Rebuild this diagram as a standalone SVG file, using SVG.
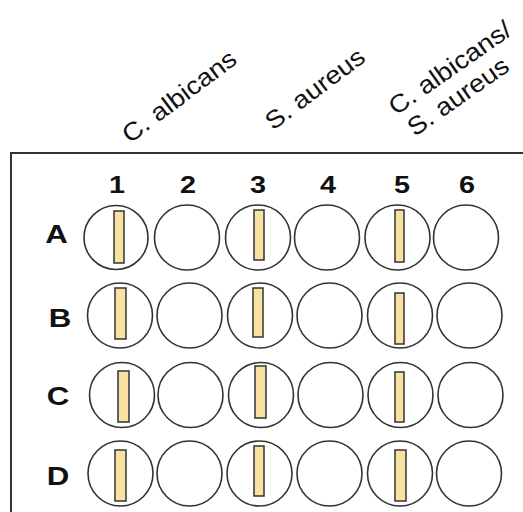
<svg xmlns="http://www.w3.org/2000/svg" width="523" height="512" viewBox="0 0 523 512">
<style>
.lbl{font-family:"Liberation Sans",Arial,sans-serif;font-size:25px;fill:#111}
.hdr{font-family:"Liberation Sans",Arial,sans-serif;font-size:24px;font-weight:bold;fill:#111;text-anchor:middle}
.well{fill:#fff;stroke:#333;stroke-width:1.6}
.strip{fill:#f8e2a2;stroke:#333;stroke-width:1.5}
.frame{fill:none;stroke:#333;stroke-width:2}
</style>
<rect width="523" height="512" fill="#fff"/>
<g id="labels">
<text class="lbl" transform="translate(130,144) rotate(-37) scale(1.1,1)">C. albicans</text>
<text class="lbl" transform="translate(273,131) rotate(-37) scale(1.1,1)">S. aureus</text>
<text class="lbl" transform="translate(396,116) rotate(-35) scale(1.1,1)">C. albicans/<tspan x="3" dy="28">S. aureus</tspan></text>
</g>
<path id="frame" class="frame" d="M11,512 V153 H523"/>
<g id="columns">
<text class="hdr" transform="translate(117,193) scale(1.2,1)">1</text>
<text class="hdr" transform="translate(188,193) scale(1.2,1)">2</text>
<text class="hdr" transform="translate(258,193) scale(1.2,1)">3</text>
<text class="hdr" transform="translate(328,193) scale(1.2,1)">4</text>
<text class="hdr" transform="translate(402,193) scale(1.2,1)">5</text>
<text class="hdr" transform="translate(467,193) scale(1.2,1)">6</text>
</g>
<g id="rows">
<text class="hdr" transform="translate(56.5,243) scale(1.25,1)" style="font-size:25px">A</text>
<text class="hdr" transform="translate(60,327) scale(1.25,1)" style="font-size:25px">B</text>
<text class="hdr" transform="translate(58,405) scale(1.25,1)" style="font-size:25px">C</text>
<text class="hdr" transform="translate(58,485) scale(1.25,1)" style="font-size:25px">D</text>
</g>
<g id="rowA">
<circle class="well" cx="116" cy="237.5" r="32"/>
<circle class="well" cx="187" cy="237.5" r="32.5"/>
<circle class="well" cx="258" cy="237.5" r="32.5"/>
<circle class="well" cx="327" cy="237.5" r="32.5"/>
<circle class="well" cx="397.5" cy="237.5" r="32.5"/>
<circle class="well" cx="466" cy="237.5" r="32.5"/>
<rect class="strip" x="114" y="211" width="10" height="52"/>
<rect class="strip" x="254" y="210" width="10" height="50"/>
<rect class="strip" x="395" y="210" width="9" height="52"/>
</g>
<g id="rowB">
<circle class="well" cx="120" cy="315.5" r="32.5"/>
<circle class="well" cx="189.5" cy="315.5" r="32.5"/>
<circle class="well" cx="260" cy="315.5" r="32.5"/>
<circle class="well" cx="329.5" cy="315.5" r="32.5"/>
<circle class="well" cx="400" cy="315.5" r="32.5"/>
<circle class="well" cx="469.5" cy="315.5" r="32.5"/>
<rect class="strip" x="115" y="288" width="11" height="51"/>
<rect class="strip" x="253" y="288" width="10" height="49"/>
<rect class="strip" x="395" y="293" width="9" height="51"/>
</g>
<g id="rowC">
<circle class="well" cx="122" cy="395" r="32.5"/>
<circle class="well" cx="190.5" cy="395" r="32.5"/>
<circle class="well" cx="261" cy="395" r="32.5"/>
<circle class="well" cx="330.5" cy="395" r="32.5"/>
<circle class="well" cx="400.5" cy="395" r="32.5"/>
<circle class="well" cx="470.5" cy="395" r="32.5"/>
<rect class="strip" x="118" y="371" width="11" height="51"/>
<rect class="strip" x="255" y="366" width="11" height="52"/>
<rect class="strip" x="395" y="372" width="9" height="50"/>
</g>
<g id="rowD">
<circle class="well" cx="120.5" cy="473.5" r="32.5"/>
<circle class="well" cx="189.5" cy="473.5" r="32.5"/>
<circle class="well" cx="259.5" cy="473.5" r="32.5"/>
<circle class="well" cx="329.5" cy="473.5" r="32.5"/>
<circle class="well" cx="400" cy="473.5" r="32.5"/>
<circle class="well" cx="469" cy="473.5" r="32.5"/>
<rect class="strip" x="115" y="450" width="11" height="51"/>
<rect class="strip" x="254" y="446" width="10" height="50"/>
<rect class="strip" x="395" y="450" width="11" height="51"/>
</g>
</svg>
